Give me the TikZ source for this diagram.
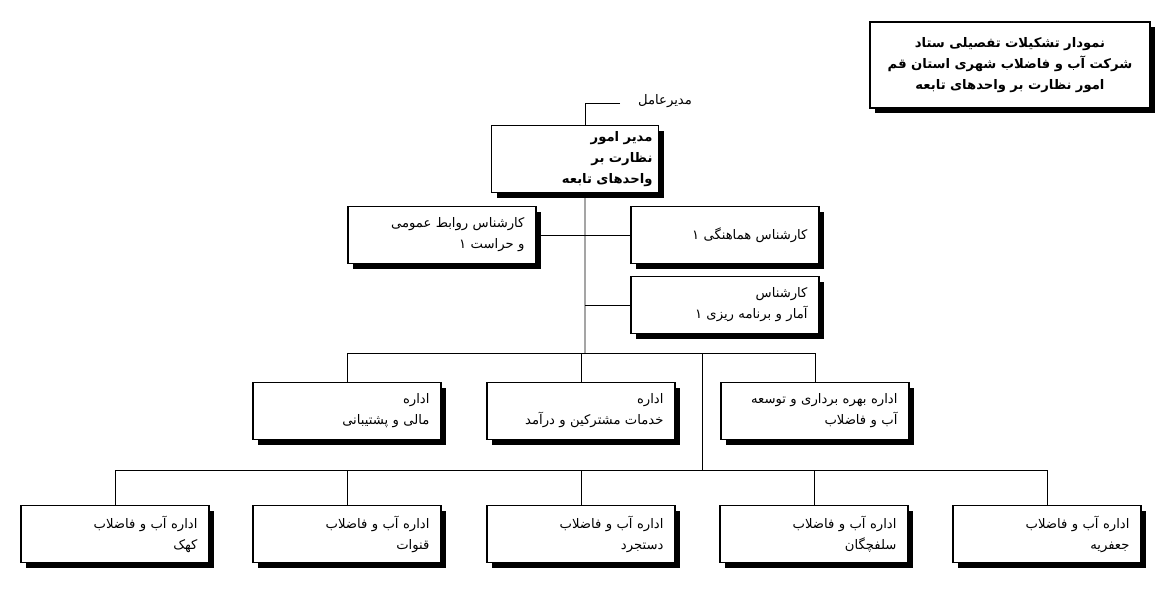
\documentclass[tikz,border=0pt]{standalone}
\usepackage{fontspec}
\TeXXeTstate=1
\newfontfamily\farsi[Script=Arabic]{DejaVu Sans}
\newcommand{\fa}[1]{\beginR #1\endR}
\usetikzlibrary{positioning, shadows}

\begin{document}
\begin{tikzpicture}[
  x=0.02cm, y=-0.02cm,
  font=\farsi\fontsize{7.5}{12}\selectfont,
  box/.style={
    rectangle, draw, thick, fill=white,
    align=right, text width=3.3cm,
    minimum height=1.14cm, minimum width=3.76cm,
    drop shadow={shadow xshift=3pt, shadow yshift=-3pt, fill=black, opacity=1}
  },
  head/.style={box, font=\farsi\bfseries\fontsize{7.5}{12}\selectfont},
  link/.style={draw, thin},
]
\useasboundingbox (0,0) rectangle (1166,591);

% --- Title ---
\node[head, minimum width=5.6cm, minimum height=1.72cm, text width=5.3cm, align=center] (TITLE) at (1010,65)
  {\fa{نمودار تشکیلات تفصیلی ستاد}\\ \fa{شرکت آب و فاضلاب شهری استان قم}\\ \fa{امور نظارت بر واحدهای تابعه}};

% --- Top ---
\node[head, minimum width=3.32cm, minimum height=1.08cm, text width=3.1cm] (MGR) at (575,159)
  {\fa{مدیر امور}\\ \fa{نظارت بر واحدهای تابعه}};
\node (CEO) at (665,101) {\fa{مدیرعامل}};
\coordinate (CEOL) at (620,103);

% --- Staff ---
\node[box] (PR) at (442,235) {\fa{کارشناس روابط عمومی}\\ \fa{و حراست ۱}};
\node[box] (COORD) at (725,235) {\fa{کارشناس هماهنگی ۱}};
\node[box] (STAT) at (725,305) {\fa{کارشناس}\\ \fa{آمار و برنامه ریزی ۱}};

% --- Departments ---
\node[box] (FIN) at (347,411) {\fa{اداره}\\ \fa{مالی و پشتیبانی}};
\node[box] (CUST) at (581,411) {\fa{اداره}\\ \fa{خدمات مشترکین و درآمد}};
\node[box] (OPS) at (815,411) {\fa{اداره  بهره برداری و توسعه}\\ \fa{آب و فاضلاب}};

% --- Branch offices ---
\node[box] (KAHAK) at (115,534) {\fa{اداره آب و فاضلاب}\\ \fa{کهک}};
\node[box] (QANAVAT) at (347,534) {\fa{اداره آب و فاضلاب}\\ \fa{قنوات}};
\node[box] (DASTJERD) at (581,534) {\fa{اداره آب و فاضلاب}\\ \fa{دستجرد}};
\node[box] (SALAFCH) at (814,534) {\fa{اداره آب و فاضلاب}\\ \fa{سلفچگان}};
\node[box] (JAFARIYE) at (1047,534) {\fa{اداره آب و فاضلاب}\\ \fa{جعفریه}};

% --- Junctions ---
\coordinate (J1) at (585,353);
\coordinate (J2) at (702,353);
\coordinate (J3) at (702,470);

% --- Connectors ---
\draw[link] (CEOL) -| ([xshift=0.2cm]MGR.north);
\draw[link] ([xshift=0.2cm]MGR.south) -- (J1);
\draw[link] (PR.east) -- (COORD.west);
\draw[link] (585,305) -- (STAT.west);
\draw[link] (J1) -| (FIN.north);
\draw[link] (J1) -| (OPS.north);
\draw[link] (CUST.north) -- (CUST.north |- J1);
\draw[link] (J2) -- (J3);
\draw[link] (J3) -| (KAHAK.north);
\draw[link] (J3) -| (QANAVAT.north);
\draw[link] (J3) -| (DASTJERD.north);
\draw[link] (J3) -| (SALAFCH.north);
\draw[link] (J3) -| (JAFARIYE.north);

\end{tikzpicture}
\end{document}
